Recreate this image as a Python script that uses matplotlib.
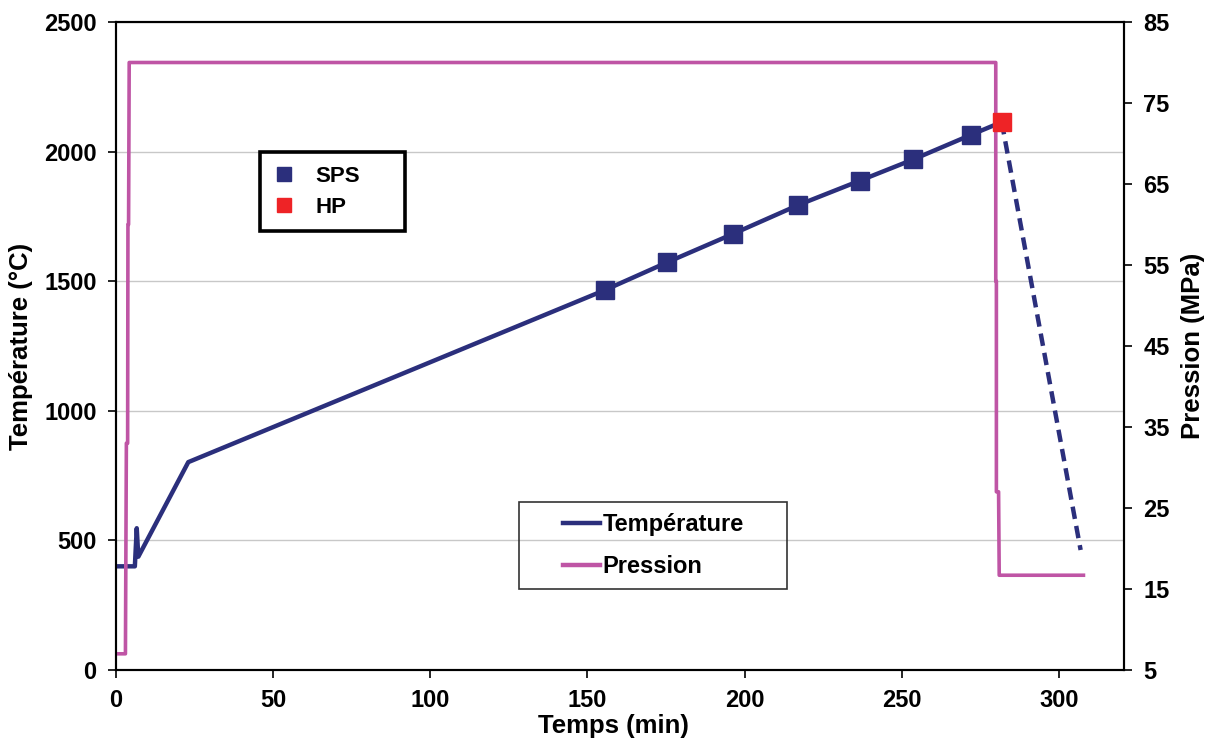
import numpy as np
from matplotlib import pyplot as plt
from matplotlib.patches import Rectangle
from matplotlib.lines import Line2D

plt.rcParams['font.family'] = ['Liberation Sans', 'DejaVu Sans']
plt.rcParams['font.weight'] = 'bold'

# temperature profile (solid part, then cooling in dashes)
tempsT = [0, 6.0, 6.6, 7.1, 23.0, 155.6, 175.4, 196.2, 217.1, 236.7, 253.7, 271.9, 281.8]
temperature = [400, 400, 547, 437, 802, 1466, 1573, 1682, 1794, 1888, 1970, 2064, 2114]
tempsCool = [281.8, 306.9]
tempCool = [2114, 463]

# SPS / HP points
spsT = [155.6, 175.4, 196.2, 217.1, 236.7, 253.7, 271.9]
spsTemp = [1466, 1573, 1682, 1794, 1888, 1970, 2064]
hpT = [281.8]
hpTemp = [2114]

# pressure profile
tempsP = [0, 3.0, 3.3, 3.7, 3.8, 4.0, 4.2, 279.9, 279.9, 280.1, 280.1, 280.8, 281.0, 307.8]
pression = [7, 7, 33, 33, 60, 60, 80, 80, 53, 53, 27, 27, 16.7, 16.7]

navy = '#2B2F7C'
pink = '#BF55A5'
red = '#EE2326'

fig = plt.figure(figsize=(12.15, 7.4), dpi=100)
ax = fig.add_axes([116/1215, 70/740, 1008/1215, 648/740])
ax2 = ax.twinx()

ax.plot(tempsT, temperature, color=navy, lw=3.2, solid_joinstyle='round', zorder=3)
ax.plot(tempsCool, tempCool, color=navy, lw=3.2, ls=(0, (2.8, 1.6)), zorder=3)
ax2.plot(tempsP, pression, color=pink, lw=2.6, zorder=2)
# markers drawn on the top axes but in temperature coordinates
sps, = ax2.plot(spsT, spsTemp, 's', color=navy, ms=12.5, transform=ax.transData, zorder=4)
hp, = ax2.plot(hpT, hpTemp, 's', color=red, ms=12.5, transform=ax.transData, zorder=5)

ax.set_xlim(0, 320.7)
ax.set_ylim(0, 2500)
ax2.set_ylim(5, 85)
ax.set_xticks(np.arange(0, 301, 50))
ax.set_yticks(np.arange(0, 2501, 500))
ax2.set_yticks(np.arange(5, 86, 10))

ax.grid(axis='y', color='#C8C8C8', lw=1)
ax.set_axisbelow(True)

for a in (ax, ax2):
    for s in a.spines.values():
        s.set_linewidth(1.5)
        s.set_color('black')
    a.tick_params(labelsize=17, width=1.2, length=6, direction='out', pad=8)

ax.set_xlabel('Temps (min)', fontsize=18.5, fontweight='bold', labelpad=1, x=0.493)
ax.set_ylabel('Température (°C)', fontsize=18.5, fontweight='bold', labelpad=8)
ax2.set_ylabel('Pression (MPa)', fontsize=18.5, fontweight='bold', labelpad=8)

# legend for the points
leg1 = ax2.legend([sps, hp], ['SPS', 'HP'], loc='center', bbox_to_anchor=(0.199, 0.738),
                  frameon=False, fontsize=16, markerscale=0.75, handlelength=1.0,
                  handletextpad=0.9, labelspacing=0.45)
ax2.add_artist(leg1)
ax2.add_patch(Rectangle((0.143, 0.677), 0.144, 0.122, transform=ax2.transAxes,
                        fill=False, ec='black', lw=2.6, zorder=6))

# legend for the lines
h1 = Line2D([], [], color=navy, lw=3.2)
h2 = Line2D([], [], color=pink, lw=3.2)
leg2 = ax2.legend([h1, h2], ['Température', 'Pression'], loc='center',
                  bbox_to_anchor=(0.533, 0.192), frameon=False, fontsize=17,
                  handlelength=1.6, handletextpad=0.1, labelspacing=0.8)
ax2.add_patch(Rectangle((0.400, 0.125), 0.266, 0.134, transform=ax2.transAxes,
                        fill=False, ec='#333333', lw=1.2, zorder=6))

plt.savefig('out.png', dpi=100)
